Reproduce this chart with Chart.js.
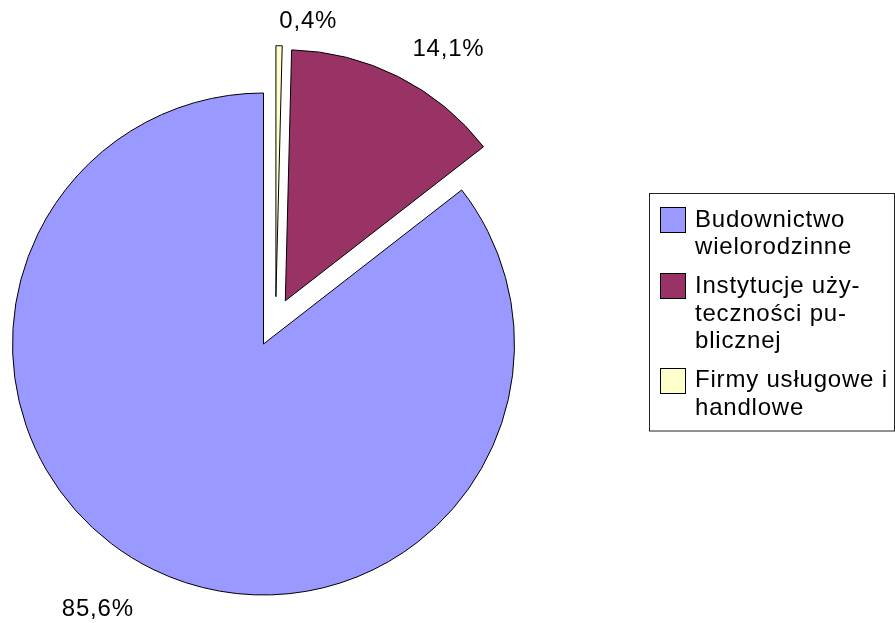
<!DOCTYPE html>
<html>
<head>
<meta charset="utf-8">
<script src="https://cdn.jsdelivr.net/npm/chart.js@4/dist/chart.umd.min.js"></script>
<style>
  html, body { margin: 0; padding: 0; background: #fff; }
  #wrap { width: 895px; height: 623px; }
</style>
</head>
<body>
<div id="wrap"><canvas id="c" width="895" height="623"></canvas></div>
<script>
// Sectors, in legend order
const categories = [
  'Budownictwo wielorodzinne',
  'Instytucje użyteczności publicznej',
  'Firmy usługowe i handlowe'
];
// Legend captions, broken and hyphenated as printed
const legendLines = [
  ['Budownictwo', 'wielorodzinne'],
  ['Instytucje uży-', 'teczności pu-', 'blicznej'],
  ['Firmy usługowe i', 'handlowe']
];
// Share of each sector, %
const shares = [85.6, 14.1, 0.4];
const colors = ['#9999ff', '#993366', '#ffffcc'];

// ---- styling ----
const FONT = '24px "Liberation Sans", Arial, sans-serif';
const SPACING = '0.8px';
const explodeDist = [0, 48.4, 48.9];     // px the slice is pulled out
const explodeDir = [null, null, 14.7];   // deg clockwise from 12 o'clock; null = along slice middle
const labelGap = [44, 31, 24];           // px from rim to percentage label
const legendBox = { x: 649.5, y: 193.5, w: 245, h: 237.5 };
const legendStyle = { swatch: 25, padLeft: 10.5, textLeft: 45.5, padTop: 13.5, line: 27.7, gap: 11, base: 19.5 };

// The slices run counter-clockwise in legend order; Chart.js sweeps clockwise,
// so the data is fed in reverse and mapped back by index.
const N = shares.length;
const toLegend = j => N - 1 - j;
const rev = a => a.slice().reverse();
const fmt = v => v.toFixed(1).replace('.', ',') + '%';

const explodePlugin = {
  id: 'explodeSlices',
  afterDatasetUpdate(chart, args) {
    const meta = chart.getDatasetMeta(args.index);
    meta.data.forEach((arc, j) => {
      const k = toLegend(j);
      const d = explodeDist[k];
      if (!d) return;
      const a = explodeDir[k] == null
        ? (arc.startAngle + arc.endAngle) / 2
        : (explodeDir[k] - 90) * Math.PI / 180;
      arc.x += d * Math.cos(a);
      arc.y += d * Math.sin(a);
    });
  }
};

const labelPlugin = {
  id: 'percentLabels',
  afterDatasetsDraw(chart) {
    const ctx = chart.ctx;
    const meta = chart.getDatasetMeta(0);
    ctx.save();
    ctx.font = FONT;
    ctx.letterSpacing = SPACING;
    ctx.fillStyle = '#000';
    ctx.textBaseline = 'middle';
    meta.data.forEach((arc, j) => {
      const k = toLegend(j);
      const mid = (arc.startAngle + arc.endAngle) / 2;
      const r = arc.outerRadius + labelGap[k];
      const x = arc.x + r * Math.cos(mid);
      const y = arc.y + r * Math.sin(mid);
      ctx.textAlign = Math.cos(mid) >= 0 ? 'left' : 'right';
      ctx.fillText(fmt(shares[k]), x, y);
    });
    ctx.restore();
  }
};

const legendPlugin = {
  id: 'boxLegend',
  afterDraw(chart) {
    const ctx = chart.ctx;
    const b = legendBox, s = legendStyle;
    ctx.save();
    ctx.lineWidth = 1;
    ctx.strokeStyle = '#222';
    ctx.strokeRect(b.x, b.y, b.w, b.h);
    ctx.font = FONT;
    ctx.letterSpacing = SPACING;
    ctx.textAlign = 'left';
    ctx.textBaseline = 'alphabetic';
    let top = b.y + s.padTop;
    categories.forEach((name, i) => {
      const sx = Math.round(b.x + s.padLeft) + 0.5;
      const sy = Math.round(top) + 0.5;
      ctx.fillStyle = colors[i];
      ctx.fillRect(sx, sy, s.swatch, s.swatch);
      ctx.strokeStyle = '#000';
      ctx.strokeRect(sx, sy, s.swatch, s.swatch);
      ctx.fillStyle = '#000';
      legendLines[i].forEach((ln, l) => {
        ctx.fillText(ln, b.x + s.textLeft, top + s.base + l * s.line);
      });
      top += legendLines[i].length * s.line + s.gap;
    });
    ctx.restore();
  }
};

new Chart(document.getElementById('c'), {
  type: 'pie',
  data: {
    labels: rev(categories),
    datasets: [{
      data: rev(shares),
      backgroundColor: rev(colors),
      borderColor: '#000',
      borderWidth: 1
    }]
  },
  options: {
    responsive: false,
    animation: false,
    events: [],
    rotation: 0,
    radius: 251,
    layout: { padding: { left: 0, right: 368, top: 65, bottom: 0 } },
    plugins: {
      legend: { display: false },
      tooltip: { enabled: false },
      title: { display: false }
    }
  },
  plugins: [explodePlugin, labelPlugin, legendPlugin]
});
</script>
</body>
</html>
